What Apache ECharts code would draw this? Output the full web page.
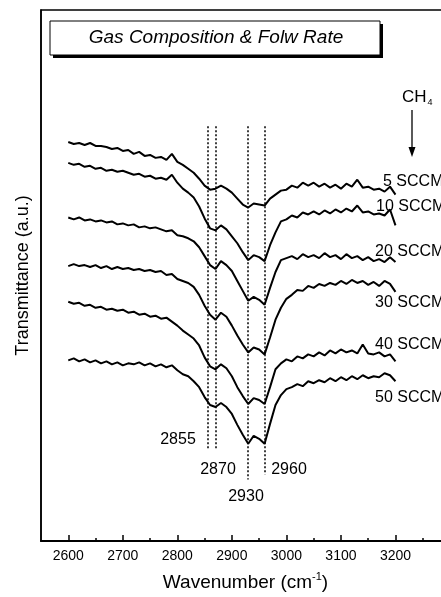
<!DOCTYPE html>
<html>
<head>
<meta charset="utf-8">
<script src="https://cdn.jsdelivr.net/npm/echarts@6/dist/echarts.min.js"></script>
<style>
  html, body { margin: 0; padding: 0; background: #fff; overflow: hidden; }
  /* the plot runs past the right edge of the picture, as in the scan */
  #chart { width: 450px; height: 597px; }
</style>
</head>
<body>
<div id="chart"></div>
<script>
// wavenumber grid (cm^-1)
const wavenumbers = [
  2600, 2610, 2620, 2630, 2640, 2650, 2660, 2670, 2680, 2690,
  2700, 2710, 2720, 2730, 2740, 2750, 2760, 2770, 2780, 2790,
  2800, 2810, 2820, 2830, 2840, 2850, 2860, 2870, 2880, 2890,
  2900, 2910, 2920, 2930, 2940, 2950, 2960, 2970, 2980, 2990,
  3000, 3010, 3020, 3030, 3040, 3050, 3060, 3070, 3080, 3090,
  3100, 3110, 3120, 3130, 3140, 3150, 3160, 3170, 3180, 3190,
  3200
]

// transmittance (a.u., curves offset), one array per CH4 flow
const t5 = [
  402, 400, 401, 399, 401, 398, 398, 397, 395, 396,
  393, 394, 390, 392, 388, 389, 386, 387, 384, 390,
  382, 379, 375, 371, 365, 358, 354, 355, 358, 355,
  351, 345, 339, 336, 340, 339, 338, 345, 349, 353,
  354, 358, 356, 361, 358, 361, 357, 360, 356, 359,
  355, 360, 357, 364, 356, 357, 354, 355, 352, 357,
  349
]
const t10 = [
  381, 379, 380, 377, 378, 375, 376, 373, 374, 372,
  373, 371, 369, 370, 367, 368, 365, 366, 364, 369,
  361, 355, 351, 346, 337, 325, 315, 313, 318, 314,
  307, 300, 291, 283, 288, 286, 282, 298, 311, 322,
  324, 328, 326, 331, 329, 332, 329, 333, 330, 334,
  331, 335, 332, 338, 331, 332, 329, 330, 328, 334,
  318
]
const t20 = [
  326, 324, 326, 323, 324, 322, 323, 321, 322, 319,
  320, 318, 319, 316, 317, 315, 316, 314, 312, 313,
  308, 307, 305, 302, 296, 287, 278, 274, 282, 278,
  272, 262, 252, 242, 246, 243, 238, 255, 271, 283,
  285, 287, 284, 289, 286, 288, 285, 290, 286, 288,
  284, 289, 285, 287, 283, 286, 282, 284, 281, 286,
  281
]
const t30 = [
  277, 279, 277, 278, 276, 278, 275, 277, 274, 276,
  274, 275, 273, 274, 272, 273, 271, 272, 268, 269,
  264, 262, 260, 256, 248, 237, 228, 223, 230, 226,
  217, 207, 198, 190, 195, 193, 188, 205, 223, 235,
  244, 248, 253, 252, 257, 255, 259, 257, 260, 258,
  262, 259, 263, 260, 262, 258, 261, 257, 262, 259,
  251
]
const t40 = [
  241, 239, 240, 237, 238, 235, 236, 233, 234, 232,
  233, 230, 231, 228, 229, 226, 227, 224, 225, 221,
  217, 212, 208, 204, 197, 185, 176, 173, 178, 174,
  166, 155, 146, 138, 144, 142, 138, 155, 173, 179,
  183, 181, 186, 184, 188, 186, 190, 187, 192, 189,
  193, 190, 192, 189, 198, 189, 188, 190, 186, 188,
  181
]
const t50 = [
  182, 184, 181, 183, 180, 182, 179, 181, 178, 180,
  177, 179, 178, 180, 177, 179, 176, 178, 175, 177,
  172, 168, 166, 161, 155, 145, 137, 135, 139, 135,
  128, 117, 107, 98, 106, 103, 98, 118, 137, 147,
  153, 155, 158, 156, 161, 159, 162, 160, 164, 161,
  165, 162, 166, 163, 167, 164, 166, 165, 169, 167,
  161
]

const flows = ['5', '10', '20', '30', '40', '50']
const curves = [t5, t10, t20, t30, t40, t50]

// axis ticks
const majorTicks = [2600, 2700, 2800, 2900, 3000, 3100, 3200]
const minorTicks = [2650, 2750, 2850, 2950, 3050, 3150, 3250]

// peak markers
const peaks = [2855, 2870, 2930, 2960]
const peakTop = 418
const peakBottom = [93, 93, 62, 67]

const FONT = "'Liberation Sans', Arial, Helvetica, sans-serif"

const chart = echarts.init(document.getElementById('chart'))

const series = curves.map((vals, i) => ({
  name: flows[i] + ' SCCM',
  type: 'line',
  xAxisIndex: 0,
  symbol: 'none',
  silent: true,
  lineStyle: { color: '#000', width: 2 },
  data: wavenumbers.map((w, j) => [w, vals[j]])
}))

// dotted peak lines on the first series
series[0].markLine = {
  silent: true,
  symbol: 'none',
  label: { show: false },
  lineStyle: { color: '#000', width: 1.5, type: [2, 2] },
  data: peaks.map((p, i) => [{ coord: [p, peakTop] }, { coord: [p, peakBottom[i]] }])
}

// label positions (px)
const flowLabelPos = [[383, 182], [376, 207], [375, 252], [375, 303], [375, 345], [375, 398]]
const peakLabelPos = [[178, 440], [218, 470], [246, 497], [289, 470]]

const graphic = [
  // title box with shadow
  { type: 'rect', shape: { x: 53, y: 24, width: 330, height: 34 }, style: { fill: '#000' } },
  { type: 'rect', shape: { x: 50, y: 21, width: 330, height: 34 }, style: { fill: '#fff', stroke: '#000', lineWidth: 1 } },
  {
    type: 'text', x: 216, y: 38,
    style: {
      text: 'Gas Composition & Folw Rate', font: 'italic 19px ' + FONT,
      fill: '#000', textAlign: 'center', textVerticalAlign: 'middle'
    }
  },
  // CH4 arrow
  {
    type: 'text', x: 402, y: 97,
    style: {
      text: '{a|CH}{b|4}',
      rich: {
        a: { fontSize: 17, fontFamily: FONT, fill: '#000' },
        b: { fontSize: 9, fontFamily: FONT, fill: '#000', padding: [12, 0, 0, 1] }
      },
      textVerticalAlign: 'middle'
    }
  },
  { type: 'line', shape: { x1: 412, y1: 110, x2: 412, y2: 150 }, style: { stroke: '#000', lineWidth: 1.3 } },
  { type: 'polygon', shape: { points: [[408.5, 147], [415.5, 147], [412, 157]] }, style: { fill: '#000' } }
]

flows.forEach((f, i) => {
  graphic.push({
    type: 'text', x: flowLabelPos[i][0], y: flowLabelPos[i][1],
    style: { text: f + ' SCCM', font: '16px ' + FONT, fill: '#000', textVerticalAlign: 'middle' }
  })
})

peaks.forEach((p, i) => {
  graphic.push({
    type: 'text', x: peakLabelPos[i][0], y: peakLabelPos[i][1],
    style: { text: String(p), font: '16px ' + FONT, fill: '#000', textAlign: 'center', textVerticalAlign: 'middle' }
  })
})

const option = {
  animation: false,
  backgroundColor: '#fff',
  grid: {
    left: 41, top: 10, right: 0, bottom: 52,
    show: true, borderColor: '#000', borderWidth: 1.5
  },
  xAxis: [
    {
      type: 'value', min: 2550, max: 3300,
      name: '{a|Wavenumber (cm}{s|-1}{a|)}',
      nameLocation: 'middle', nameGap: 30,
      nameTextStyle: {
        rich: {
          a: { fontSize: 19, fontFamily: FONT, color: '#000' },
          s: { fontSize: 11, fontFamily: FONT, color: '#000', padding: [0, 0, 12, 0] }
        }
      },
      axisLine: { show: true, lineStyle: { color: '#000', width: 2 } },
      axisTick: { show: true, inside: true, length: 6, customValues: majorTicks, lineStyle: { color: '#000', width: 1.5 } },
      axisLabel: {
        customValues: majorTicks, formatter: v => String(v),
        fontSize: 14, fontFamily: FONT, color: '#000', margin: 8
      },
      splitLine: { show: false }
    },
    {
      type: 'value', min: 2550, max: 3300, position: 'bottom',
      axisLine: { show: false },
      axisTick: { show: true, inside: true, length: 3, customValues: minorTicks, lineStyle: { color: '#000', width: 1.5 } },
      axisLabel: { show: false },
      splitLine: { show: false }
    }
  ],
  yAxis: {
    type: 'value', min: 0, max: 535,
    name: 'Transmittance (a.u.)',
    nameLocation: 'middle', nameGap: 9, nameRotate: 90,
    nameTextStyle: { fontSize: 18, fontFamily: FONT, color: '#000' },
    axisLine: { show: true, lineStyle: { color: '#000', width: 1.5 } },
    axisTick: { show: false },
    axisLabel: { show: false },
    splitLine: { show: false }
  },
  graphic: graphic,
  series: series
}

chart.setOption(option)
</script>
</body>
</html>
